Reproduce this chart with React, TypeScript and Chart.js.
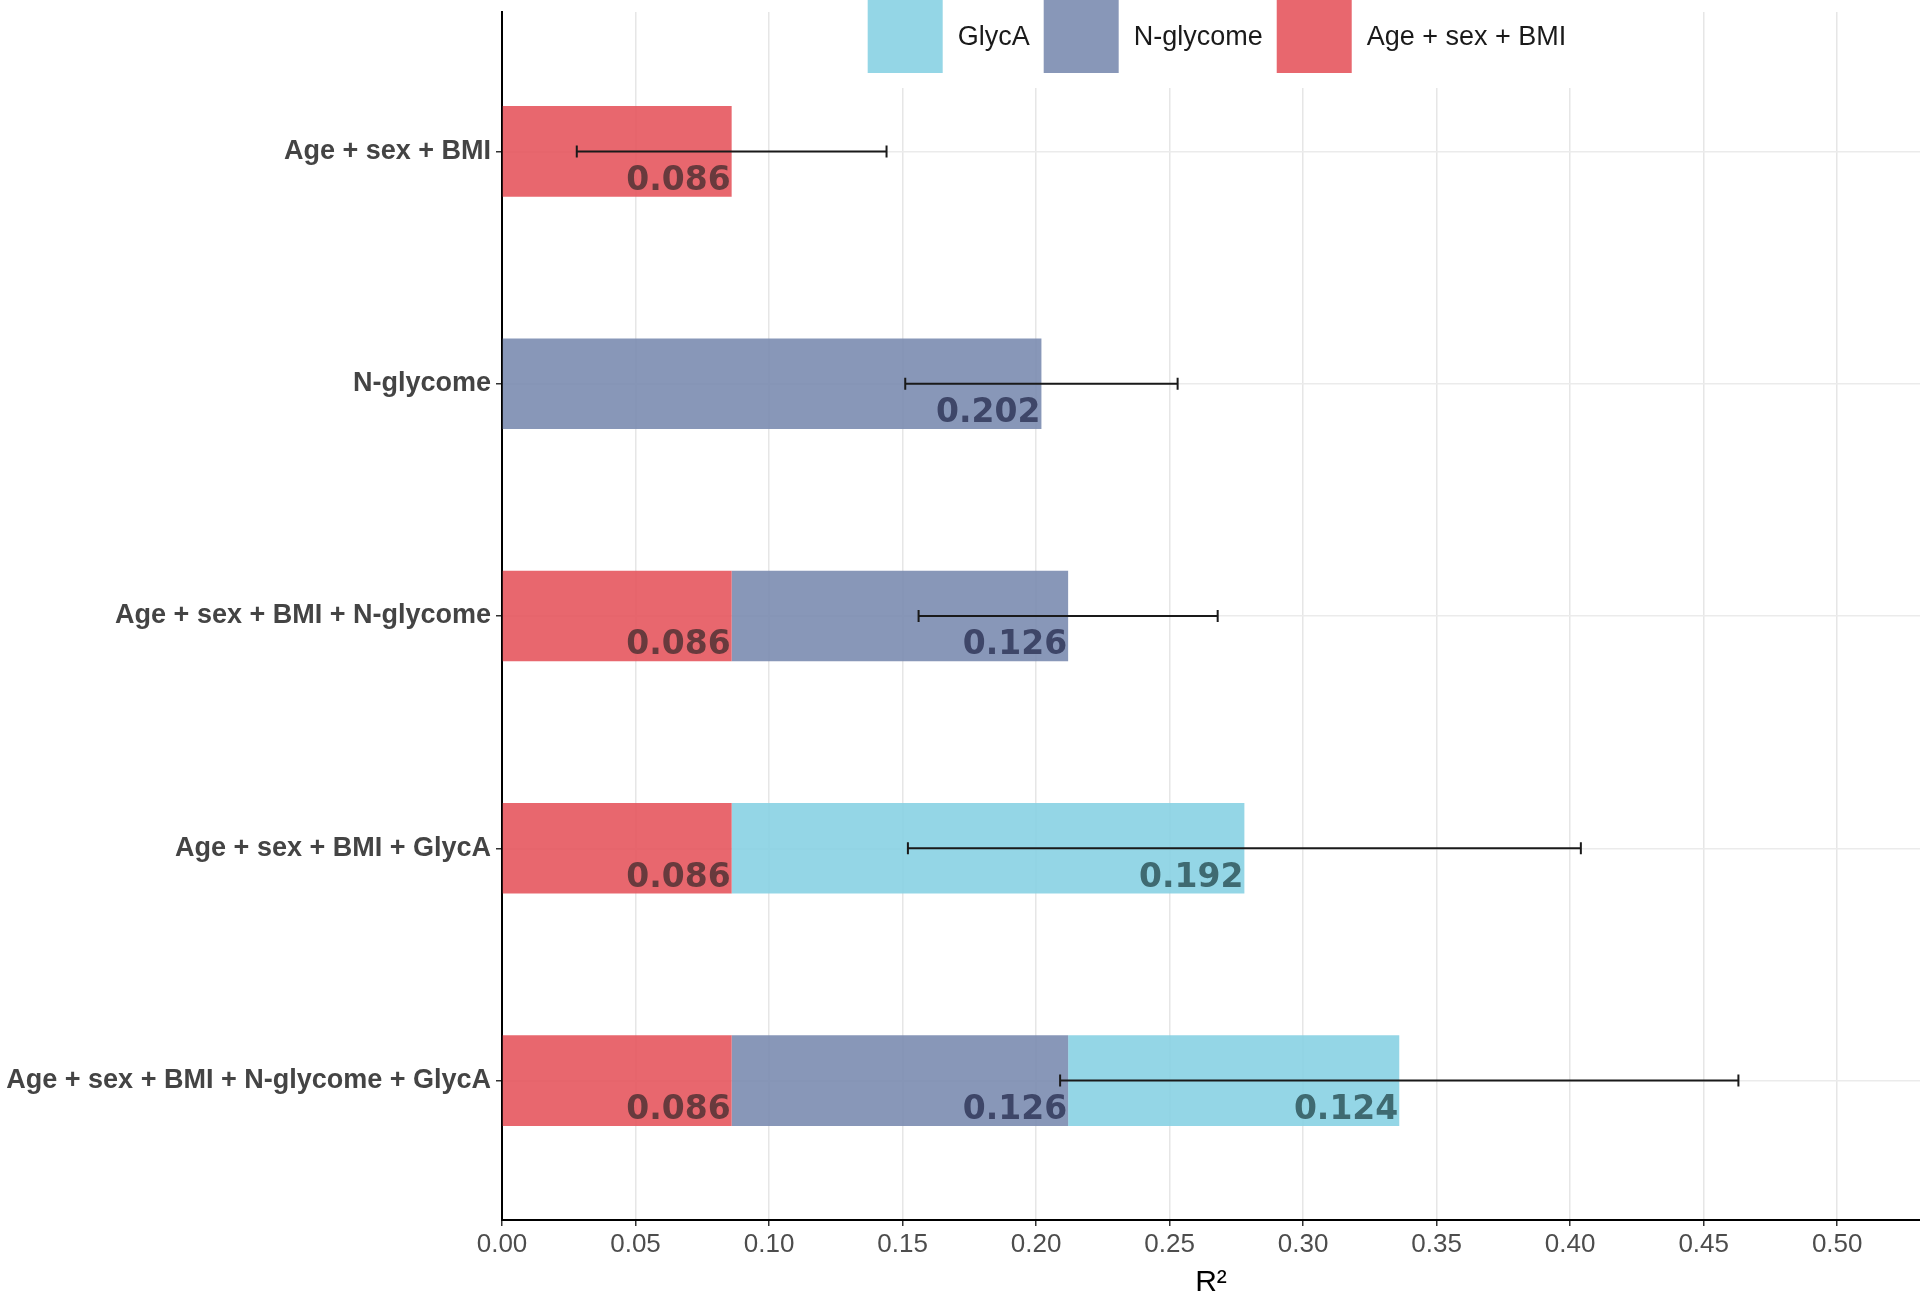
import { useEffect, useRef } from 'react'
import { Chart, registerables } from 'chart.js'

Chart.register(...registerables)

const categories = [
  'Age + sex + BMI',
  'N-glycome',
  'Age + sex + BMI + N-glycome',
  'Age + sex + BMI + GlycA',
  'Age + sex + BMI + N-glycome + GlycA',
]
const baseValues = [0.086, null, 0.086, 0.086, 0.086]
const glycomeValues = [null, 0.202, 0.126, null, 0.126]
const glycaValues = [null, null, null, 0.192, 0.124]
const errLow = [0.028, 0.151, 0.156, 0.152, 0.209]
const errHigh = [0.144, 0.253, 0.268, 0.404, 0.463]
const xTicks = [0, 0.05, 0.1, 0.15, 0.2, 0.25, 0.3, 0.35, 0.4, 0.45, 0.5]
const legendItems = ['GlycA', 'N-glycome', 'Age + sex + BMI']

const RED = 'rgba(230, 86, 94, 0.9)'
const NAVY = 'rgba(123, 140, 176, 0.9)'
const CYAN = 'rgba(136, 209, 227, 0.9)'

const legendColors: Record<string, string> = {
  'GlycA': CYAN,
  'N-glycome': NAVY,
  'Age + sex + BMI': RED,
}

const toPoints = (vals: (number | null)[]) => vals.map((v, i) => ({ x: v, y: i }))

const errorBars = {
  id: 'errorBars',
  afterDatasetsDraw(chart: any) {
    const { ctx, scales } = chart
    ctx.save()
    ctx.strokeStyle = '#1a1a1a'
    ctx.lineWidth = 2
    errLow.forEach((lo, i) => {
      const x1 = scales.x.getPixelForValue(lo)
      const x2 = scales.x.getPixelForValue(errHigh[i])
      const y = scales.y.getPixelForValue(i)
      ctx.beginPath()
      ctx.moveTo(x1, y)
      ctx.lineTo(x2, y)
      ctx.moveTo(x1, y - 6)
      ctx.lineTo(x1, y + 6)
      ctx.moveTo(x2, y - 6)
      ctx.lineTo(x2, y + 6)
      ctx.stroke()
    })
    ctx.restore()
  },
}

const valueLabels = {
  id: 'valueLabels',
  afterDraw(chart: any) {
    const { ctx } = chart
    ctx.save()
    ctx.font = 'bold 33px "DejaVu Sans"'
    ctx.textAlign = 'right'
    ctx.textBaseline = 'middle'
    chart.data.datasets.forEach((ds: any, di: number) => {
      const meta = chart.getDatasetMeta(di)
      meta.data.forEach((bar: any, i: number) => {
        const v = ds.data[i].x
        if (v == null) return
        ctx.fillStyle = ds.labelColor
        ctx.fillText(v.toFixed(3), bar.x - 1, bar.y + bar.height * 0.33)
      })
    })
    ctx.restore()
  },
}

const topLegend = {
  id: 'topLegend',
  afterDraw(chart: any) {
    const { ctx, chartArea } = chart
    ctx.save()
    ctx.font = '27px "Liberation Sans", Arial, sans-serif'
    const box = 75
    const gapText = 15
    const gapItem = 14
    const widths = legendItems.map(t => ctx.measureText(t).width)
    const total = widths.reduce((s, w) => s + box + gapText + w, 0) + gapItem * (legendItems.length - 1)
    let x = (chartArea.left + chartArea.right) / 2 - total / 2 + 6
    ctx.fillStyle = '#ffffff'
    ctx.fillRect(x - 14, 0, total + 28, 88)
    ctx.textAlign = 'left'
    ctx.textBaseline = 'middle'
    legendItems.forEach((t, i) => {
      ctx.fillStyle = legendColors[t]
      ctx.fillRect(x, 0, box, 73)
      ctx.fillStyle = '#1a1a1a'
      ctx.fillText(t, x + box + gapText, 38)
      x += box + gapText + widths[i] + gapItem
    })
    ctx.restore()
  },
}

export default function App() {
  const canvasRef = useRef<HTMLCanvasElement>(null)
  const chartRef = useRef<any>(null)

  useEffect(() => {
    document.body.style.margin = '0'
    if (!canvasRef.current) return
    if (chartRef.current) chartRef.current.destroy()

    chartRef.current = new Chart(canvasRef.current, {
      type: 'bar',
      data: {
        datasets: [
          { label: 'Age + sex + BMI', data: toPoints(baseValues), backgroundColor: RED, labelColor: '#683a3d' },
          { label: 'N-glycome', data: toPoints(glycomeValues), backgroundColor: NAVY, labelColor: '#3e4668' },
          { label: 'GlycA', data: toPoints(glycaValues), backgroundColor: CYAN, labelColor: '#3f6a71' },
        ] as any,
      },
      options: {
        indexAxis: 'y',
        animation: false,
        responsive: true,
        maintainAspectRatio: false,
        layout: { padding: { top: 12, right: 0, bottom: 0, left: 0 } },
        datasets: { bar: { barPercentage: 0.39, categoryPercentage: 1, borderWidth: 0 } },
        plugins: {
          legend: { display: false },
          tooltip: { enabled: false },
        },
        scales: {
          x: {
            type: 'linear',
            stacked: true,
            min: 0,
            max: 0.531,
            afterBuildTicks: (s: any) => { s.ticks = xTicks.map(v => ({ value: v })) },
            afterFit: (s: any) => { s.height = 79; s.paddingLeft = 0; s.paddingRight = 0 },
            border: { display: true, color: '#000000', width: 2 },
            grid: { color: '#e6e6e6', lineWidth: 1.5, tickColor: '#333333', tickLength: 6 },
            ticks: {
              color: '#4d4d4d',
              padding: 3,
              font: { family: '"Liberation Sans", Arial, sans-serif', size: 26 },
              callback: (v: any) => Number(v).toFixed(2),
            },
            title: {
              display: true,
              text: 'R²',
              color: '#000000',
              padding: { top: 0, bottom: 0 },
              font: { family: '"Liberation Sans", Arial, sans-serif', size: 30, lineHeight: 1.1 },
            },
          },
          y: {
            type: 'linear',
            stacked: true,
            reverse: true,
            offset: false,
            min: -0.6,
            max: 4.6,
            afterBuildTicks: (s: any) => { s.ticks = categories.map((_, i) => ({ value: i })) },
            afterFit: (s: any) => { s.width = 502; s.paddingTop = 0; s.paddingBottom = 0 },
            border: { display: true, color: '#000000', width: 2 },
            grid: { offset: false, color: '#ebebeb', lineWidth: 1.5, tickColor: '#333333', tickLength: 6 },
            ticks: {
              color: '#444444',
              padding: 5,
              font: { family: '"Liberation Sans", Arial, sans-serif', size: 27, weight: 'bold' },
              callback: (v: any) => categories[Number(v)],
            },
          },
        },
      },
      plugins: [errorBars, valueLabels, topLegend],
    })

    return () => {
      if (chartRef.current) chartRef.current.destroy()
    }
  }, [])

  return (
    <div style={{ width: 1920, height: 1299, background: '#ffffff' }}>
      <canvas ref={canvasRef} />
    </div>
  )
}
